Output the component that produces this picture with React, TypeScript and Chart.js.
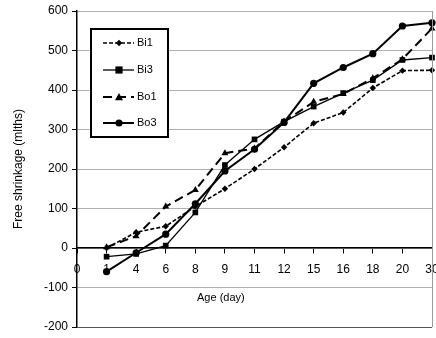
import React, { useEffect, useRef } from "react";
import { Chart, registerables } from "chart.js";

Chart.register(...registerables);

const categories = ["0", "1", "4", "6", "8", "9", "11", "12", "15", "16", "18", "20", "30"];
const bi1 = [null, 0, 40, 55, 105, 150, 200, 255, 316, 343, 405, 449, 450];
const bi3 = [null, -22, -15, 6, 90, 210, 275, 320, 358, 392, 425, 476, 482];
const bo1 = [null, 2, 30, 105, 147, 240, 252, 320, 370, 390, 430, 478, 556];
const bo3 = [null, -60, -12, 35, 112, 195, 250, 318, 417, 457, 492, 562, 570];
const yTicks = [-200, -100, 0, 100, 200, 300, 400, 500, 600];

const FONT = "'Liberation Sans', Arial, sans-serif";

function drawMarker(ctx: CanvasRenderingContext2D, style: string, x: number, y: number, r: number) {
  ctx.save();
  ctx.fillStyle = "#000";
  ctx.beginPath();
  if (style === "circle") {
    ctx.arc(x, y, r, 0, Math.PI * 2);
  } else if (style === "rect") {
    ctx.rect(x - r * 0.9, y - r * 0.9, r * 1.8, r * 1.8);
  } else if (style === "triangle") {
    ctx.moveTo(x, y - r);
    ctx.lineTo(x + r, y + r * 0.8);
    ctx.lineTo(x - r, y + r * 0.8);
    ctx.closePath();
  } else {
    ctx.moveTo(x, y - r);
    ctx.lineTo(x + r, y);
    ctx.lineTo(x, y + r);
    ctx.lineTo(x - r, y);
    ctx.closePath();
  }
  ctx.fill();
  ctx.restore();
}

const extras = {
  id: "extras",
  afterDraw(chart: any) {
    const { ctx, chartArea } = chart;
    ctx.save();
    // right border
    ctx.strokeStyle = "#9a9a9a";
    ctx.lineWidth = 1;
    ctx.beginPath();
    ctx.moveTo(chartArea.right + 0.5, chartArea.top);
    ctx.lineTo(chartArea.right + 0.5, chartArea.bottom);
    ctx.stroke();
    // x title
    ctx.fillStyle = "#000";
    ctx.font = `11px ${FONT}`;
    ctx.textAlign = "left";
    ctx.textBaseline = "middle";
    ctx.fillText("Age (day)", 197, 298);
    // legend
    const lx = 91, ly = 29, lw = 77, lh = 108;
    ctx.fillStyle = "#fff";
    ctx.fillRect(lx, ly, lw, lh);
    ctx.strokeStyle = "#000";
    ctx.lineWidth = 2;
    ctx.strokeRect(lx, ly, lw, lh);
    const rows = [43, 70, 97, 123];
    chart.data.datasets.forEach((ds: any, i: number) => {
      const y = rows[i];
      ctx.save();
      ctx.strokeStyle = "#000";
      ctx.lineWidth = ds.borderWidth;
      ctx.setLineDash(ds.borderDash || []);
      ctx.beginPath();
      ctx.moveTo(103, y);
      ctx.lineTo(134, y);
      ctx.stroke();
      ctx.restore();
      drawMarker(ctx, ds.pointStyle, 119, y, ds.pointRadius);
      ctx.fillStyle = "#000";
      ctx.font = `11px ${FONT}`;
      ctx.textAlign = "left";
      ctx.textBaseline = "middle";
      ctx.fillText(ds.label, 137, y);
    });
    ctx.restore();
  },
};

export default function App() {
  const ref = useRef<HTMLCanvasElement | null>(null);
  useEffect(() => {
    if (!ref.current) return;
    const common = {
      borderColor: "#000",
      backgroundColor: "#000",
      pointBackgroundColor: "#000",
      pointBorderColor: "#000",
      pointBorderWidth: 0,
      spanGaps: true,
      tension: 0,
      fill: false,
    };
    const chart = new Chart(ref.current, {
      type: "line",
      data: {
        labels: categories,
        datasets: [
          { ...common, label: "Bi1", data: bi1, borderWidth: 1.6, borderDash: [4, 2], pointStyle: "rectRot", pointRadius: 3.2 },
          { ...common, label: "Bi3", data: bi3, borderWidth: 1.3, pointStyle: "rect", pointRadius: 4 },
          { ...common, label: "Bo1", data: bo1, borderWidth: 2, borderDash: [9, 5], pointStyle: "triangle", pointRadius: 4 },
          { ...common, label: "Bo3", data: bo3, borderWidth: 2, pointStyle: "circle", pointRadius: 3.6 },
        ] as any,
      },
      options: {
        animation: false,
        responsive: false,
        maintainAspectRatio: false,
        layout: { padding: { left: 0, right: 4, top: 11, bottom: 11 } },
        plugins: { legend: { display: false }, tooltip: { enabled: false } },
        scales: {
          x: {
            type: "category",
            position: { y: 0 } as any,
            offset: false,
            grid: { display: true, drawOnChartArea: false, drawTicks: true, tickLength: 5, color: "#000" },
            border: { display: true, color: "#000", width: 1.5 },
            ticks: { color: "#000", font: { family: FONT, size: 12 }, padding: 9, maxRotation: 0, autoSkip: false },
            afterFit: (s: any) => { s.height = 0; s.paddingLeft = 0; s.paddingRight = 0; },
          },
          y: {
            type: "linear",
            min: -200,
            max: 600,
            afterBuildTicks: (s: any) => { s.ticks = yTicks.map((v) => ({ value: v })); },
            grid: {
              color: (c: any) => (c.tick && c.tick.value === -200 ? "#555" : "#b0b0b0"),
              lineWidth: 1,
              tickLength: 5,
              tickColor: "#000",
            },
            border: { display: true, color: "#000", width: 1.5 },
            ticks: { color: "#000", font: { family: FONT, size: 12 }, padding: 4 },
            title: { display: true, text: "Free shrinkage (mlths)", color: "#000", font: { family: FONT, size: 12 }, padding: { top: 11, bottom: 0 } },
            afterFit: (s: any) => { s.width = 77; s.paddingTop = 0; s.paddingBottom = 0; },
          },
        },
      },
      plugins: [extras],
    });
    return () => chart.destroy();
  }, []);
  return (
    <div style={{ position: "fixed", left: 0, top: 0, width: 436, height: 338, background: "#fff" }}>
      <canvas ref={ref} width={436} height={338} style={{ display: "block" }} />
    </div>
  );
}
